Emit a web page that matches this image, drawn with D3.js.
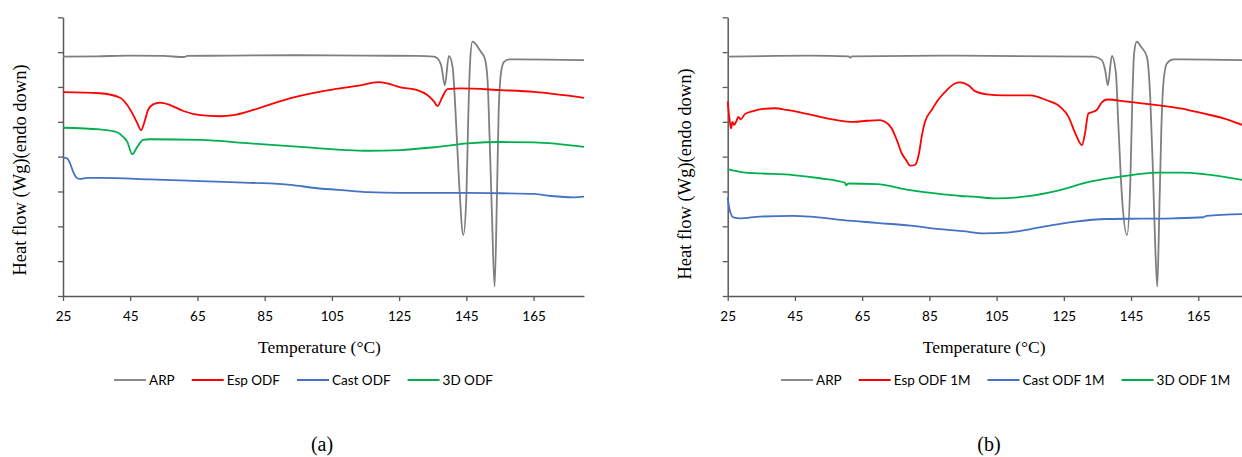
<!DOCTYPE html>
<html>
<head>
<meta charset="utf-8">
<script src="https://cdn.jsdelivr.net/npm/d3@7"></script>
<style>
  body { margin: 0; background: #fff; }
</style>
</head>
<body>
<svg id="chart" width="1242" height="457"></svg>
<script>
// DSC thermograms: panel (a) and panel (b)

var tempTicks = [25, 45, 65, 85, 105, 125, 145, 165];
var flowTicks = [0, 1, 2, 3, 4, 5, 6, 7, 8];

var namesA = ["ARP", "Esp ODF", "Cast ODF", "3D ODF"];
var namesB = ["ARP", "Esp ODF 1M", "Cast ODF 1M", "3D ODF 1M"];
var colors = ["#7f7f7f", "#ff0000", "#4472c4", "#00b050"];

/* panel (a) : [temperature, heat flow (arbitrary)] */
var arpA = [[25,6.87],[35,6.88],[45,6.90],[55,6.89],[61,6.86],[62,6.89],[75,6.90],[95,6.91],[115,6.90],[130,6.89],
  [135.3,6.87],[136.4,6.82],[137.6,6.58],[138.6,6.05],[139.8,6.89],[140.9,6.58],[141.8,5.25],[142.8,3.33],[144.1,1.75],
  [145.0,2.85],[145.6,5.25],[146.1,6.69],[146.8,7.30],[147.8,7.23],[149.3,7.01],[150.5,6.82],[151.3,6.20],[152.0,4.28],
  [152.6,2.38],[153.4,0.27],[154.1,2.85],[154.6,5.25],[155.3,6.40],[156.2,6.72],[157.7,6.79],[161,6.79],[180,6.77]];
var espA = [[25,5.85],[36,5.82],[42,5.69],[44.1,5.48],[45.9,5.19],[47.1,4.96],[48.2,4.76],[49.4,5.05],[50.3,5.34],
  [51.8,5.50],[53.9,5.55],[56.9,5.48],[60.8,5.31],[65.8,5.19],[71.8,5.16],[75.7,5.19],[81.6,5.34],[87.6,5.53],[93.6,5.70],
  [100,5.84],[105.5,5.93],[112.5,6.03],[119,6.14],[121.5,6.10],[125.4,5.99],[130.4,5.91],[133.4,5.77],[135.4,5.58],
  [136.4,5.45],[137.9,5.72],[139.4,5.94],[143.3,5.96],[155.3,5.91],[165.1,5.86],[180,5.69]];
var castA = [[25,3.97],[26.2,3.95],[27.1,3.81],[28,3.57],[29.2,3.38],[30.1,3.36],[32.2,3.39],[36,3.39],[50.9,3.35],
  [65.8,3.30],[80.7,3.25],[92.7,3.19],[100,3.10],[110.5,3.02],[115.6,2.98],[125.4,2.96],[145.4,2.96],[155.3,2.95],
  [165.1,2.93],[170.2,2.87],[177,2.83],[180,2.85]];
var odfA = [[25,4.83],[36,4.78],[41.1,4.70],[42.9,4.57],[44.1,4.43],[45.6,4.07],[47.1,4.28],[48.8,4.48],[50.9,4.50],
  [65.8,4.48],[80.7,4.38],[95.6,4.28],[115.6,4.17],[125.4,4.19],[135.3,4.27],[145.4,4.38],[155.3,4.42],[165.1,4.41],[180,4.28]];

/* panel (b) */
var arpB = [[25,6.87],[49.5,6.90],[61,6.88],[61.4,6.84],[62,6.88],[94.1,6.90],[133.8,6.87],[136.3,6.77],[137.3,6.48],
  [138.1,6.05],[139.3,6.89],[140.5,6.39],[141.2,4.96],[142.3,2.85],[143.8,1.75],[144.8,3.33],[145.4,5.72],[145.9,6.96],
  [146.7,7.30],[148,7.15],[149.7,6.87],[150.7,5.72],[151.5,3.61],[152.2,1.41],[152.8,0.27],[153.4,2.38],[154.0,4.76],
  [154.7,6.20],[155.7,6.68],[157.6,6.79],[161.1,6.79],[178.1,6.77]];
var espB = [[25,5.58],[25.7,4.96],[26,4.81],[26.4,5.00],[26.9,4.91],[27.5,5.00],[28.2,5.14],[28.9,5.07],[30.1,5.22],
  [32.6,5.31],[35.6,5.37],[39.1,5.39],[42.6,5.34],[46.5,5.27],[52.5,5.14],[57.4,5.05],[62.4,5.00],[66.4,5.03],[70.3,5.05],
  [71.8,5.00],[73.8,4.81],[75.3,4.48],[76.8,4.09],[78.1,3.90],[79.3,3.74],[80.7,3.76],[81.9,4.09],[82.7,4.57],[83.7,5.00],
  [85.7,5.34],[87.7,5.64],[90.2,5.91],[92.6,6.10],[94.1,6.13],[96.6,6.05],[98.6,5.88],[102.1,5.79],[107,5.76],[115,5.76],
  [119.9,5.62],[123.9,5.43],[126.4,5.14],[128.4,4.67],[130.4,4.33],[131.3,4.67],[132.3,5.24],[133.8,5.29],[134.8,5.34],
  [136.3,5.56],[137.8,5.64],[143.8,5.58],[152.7,5.48],[160.1,5.38],[166.5,5.24],[172.5,5.10],[178.1,4.91]];
var castB = [[25,2.83],[25.4,2.56],[25.9,2.37],[26.7,2.26],[28.7,2.23],[34.6,2.28],[44.5,2.30],[49.5,2.28],[59.4,2.18],
  [69.3,2.10],[79.3,2.02],[89.2,1.91],[95,1.86],[101.1,1.80],[108,1.82],[117.9,1.97],[127.9,2.13],[137.8,2.21],
  [147.7,2.22],[157.6,2.23],[166.5,2.26],[167.5,2.30],[178.1,2.35]];
var odfB = [[25,3.64],[29.6,3.55],[34.6,3.52],[44.5,3.47],[52.5,3.38],[59.9,3.25],[60.2,3.18],[60.9,3.23],[69.3,3.21],
  [79.3,3.04],[89.2,2.92],[94.1,2.87],[98.1,2.85],[105.1,2.80],[113,2.85],[122.9,3.02],[132.8,3.28],[142.7,3.44],
  [152.7,3.54],[160.1,3.54],[166.5,3.50],[178.1,3.33]];

var svg = d3.select("#chart");

var plotTop = 17.3, plotBottom = 296, plotWidth = 521;
var tickFont = "Lato, 'Open Sans', sans-serif";
var titleFont = "'Liberation Serif', 'Times New Roman', serif";

function drawPanel(p) {
  var g = svg.append("g");

  var x = d3.scaleLinear().domain([25, 180]).range([p.left, p.left + plotWidth]);
  var y = d3.scaleLinear().domain([0, 8]).range([plotBottom, plotTop]);

  // X axis
  var xAxis = g.append("g")
      .attr("transform", "translate(0," + plotBottom + ")")
      .call(d3.axisBottom(x).tickValues(tempTicks).tickSize(5).tickSizeOuter(0).tickPadding(10));
  // Y axis (no labels)
  var yAxis = g.append("g")
      .attr("transform", "translate(" + p.left + ",0)")
      .call(d3.axisLeft(y).tickValues(flowTicks).tickFormat("").tickSize(5).tickSizeOuter(0));

  [xAxis, yAxis].forEach(function(a) {
    a.select(".domain").attr("stroke", "#595959").attr("stroke-width", 1.5);
    a.selectAll(".tick line").attr("stroke", "#595959").attr("stroke-width", 1.3);
  });
  xAxis.selectAll(".tick text")
      .attr("font-family", tickFont).attr("font-size", 13.5).attr("fill", "#000");

  /* lines */
  var line = d3.line()
      .x(function(d) { return x(d[0]); })
      .y(function(d) { return y(d[1]); })
      .curve(d3.curveMonotoneX);

  p.series.forEach(function(s, i) {
    g.append("path")
        .datum(s)
        .attr("fill", "none")
        .attr("stroke", colors[i])
        .attr("stroke-width", 1.8)
        .attr("stroke-linejoin", "round")
        .attr("d", line);
  });

  // axis titles
  g.append("text")
      .attr("x", x(25) + plotWidth / 2 - 4)
      .attr("y", 353)
      .attr("text-anchor", "middle")
      .attr("font-family", titleFont)
      .attr("font-size", 17.5)
      .text("Temperature (\u00B0C)");

  g.append("text")
      .attr("transform", "translate(" + (p.left - 37) + "," + p.yTitleMid + ") rotate(-90)")
      .attr("text-anchor", "middle")
      .attr("font-family", titleFont)
      .attr("font-size", 18.5)
      .text("Heat flow (Wg)(endo down)");

  /* legend */
  var lg = g.append("g").attr("transform", "translate(" + p.legendX + ",380)");
  var cx = 0;
  p.names.forEach(function(n, i) {
    lg.append("line")
        .attr("x1", cx).attr("x2", cx + 32)
        .attr("y1", 0).attr("y2", 0)
        .attr("stroke", colors[i]).attr("stroke-width", 1.8);
    var t = lg.append("text")
        .attr("x", cx + 35)
        .attr("y", 5)
        .attr("font-family", tickFont)
        .attr("font-size", 13.5)
        .text(n);
    cx += 35 + t.node().getComputedTextLength() + 17;
  });

  // panel label
  g.append("text")
      .attr("x", p.labelX)
      .attr("y", 451)
      .attr("text-anchor", "middle")
      .attr("font-family", titleFont)
      .attr("font-size", 20)
      .text(p.label);
}

drawPanel({left: 63, series: [arpA, espA, castA, odfA], names: namesA,
           legendX: 114, labelX: 322, label: "(a)", yTitleMid: 170});
drawPanel({left: 727.7, series: [arpB, espB, castB, odfB], names: namesB,
           legendX: 781, labelX: 989, label: "(b)", yTitleMid: 174});
</script>
</body>
</html>
